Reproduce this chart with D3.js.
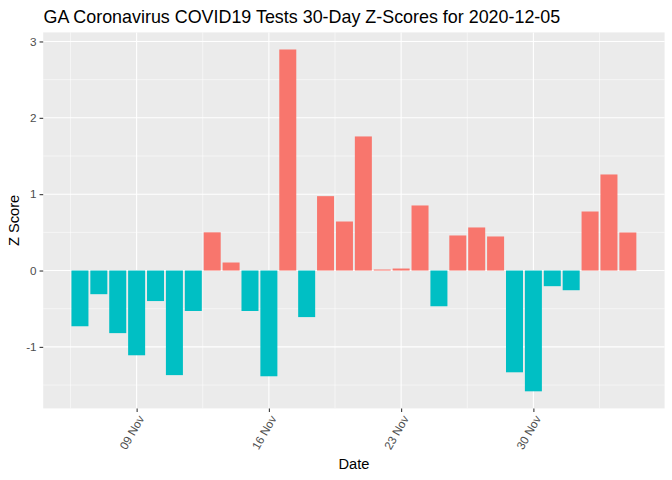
<!DOCTYPE html>
<html>
<head>
<meta charset="utf-8">
<script src="https://cdn.jsdelivr.net/npm/d3@7"></script>
<style>
  body { margin: 0; background: #fff; }
  text { font-family: "Liberation Sans", Arial, sans-serif; }
</style>
</head>
<body>
<script>
//chart data: one z-score per day, 30 days ending 2020-12-05
var startDate = "2020-11-06";
var zScores = [
    -0.73, -0.31, -0.82, -1.11, -0.40, -1.37, -0.53, 0.50, 0.105, -0.53,
    -1.385, 2.895, -0.61, 0.974, 0.642, 1.756, 0.013, 0.026, 0.852, -0.468,
    0.459, 0.564, 0.446, -1.333, -1.582, -0.205, -0.258, 0.773, 1.258, 0.498
];
var yTicks = [-1, 0, 1, 2, 3];
var yMinor = [-1.5, -0.5, 0.5, 1.5, 2.5];
var xTickDates = ["2020-11-09", "2020-11-16", "2020-11-23", "2020-11-30"];
var xMinorDates = ["2020-11-05T12:00", "2020-11-12T12:00", "2020-11-19T12:00", "2020-11-26T12:00", "2020-12-03T12:00"];

var titleText = "GA Coronavirus COVID19 Tests 30-Day Z-Scores for 2020-12-05";

var width = 672, height = 480;
var panel = {left: 43.2, right: 664.6, top: 32.4, bottom: 408.4};
var DAY = 864e5;

var parse = d3.utcParse("%Y-%m-%d"),
    parseT = d3.utcParse("%Y-%m-%dT%H:%M");
var t0 = parse(startDate);

//build data rows from the arrays
var data = zScores.map(function(v, i){
    return {date: new Date(t0.getTime() + i * DAY), value: v};
});

var svg = d3.select("body").append("svg")
    .attr("width", width)
    .attr("height", height);

//domain like ggplot: bar width 0.9 day, then 5% expansion
var lo = data[0].date.getTime() - 0.45 * DAY,
    hi = data[data.length - 1].date.getTime() + 0.45 * DAY,
    padX = (hi - lo) * 0.05;
var x = d3.scaleUtc()
    .domain([new Date(lo - padX), new Date(hi + padX)])
    .range([panel.left, panel.right]);

var yMin = d3.min(zScores), yMax = d3.max(zScores), padY = (yMax - yMin) * 0.05;
var y = d3.scaleLinear()
    .domain([yMin - padY, yMax + padY])
    .range([panel.bottom, panel.top]);

//panel background
svg.append("rect")
    .attr("x", panel.left)
    .attr("y", panel.top)
    .attr("width", panel.right - panel.left)
    .attr("height", panel.bottom - panel.top)
    .attr("fill", "#EBEBEB");

//grid lines
var grid = svg.append("g").attr("stroke", "#fff");
grid.selectAll(".ymin").data(yMinor).enter().append("line")
    .attr("x1", panel.left).attr("x2", panel.right)
    .attr("y1", function(d){ return y(d); }).attr("y2", function(d){ return y(d); })
    .attr("stroke-width", 0.53);
grid.selectAll(".xmin").data(xMinorDates).enter().append("line")
    .attr("y1", panel.top).attr("y2", panel.bottom)
    .attr("x1", function(d){ return x(parseT(d)); }).attr("x2", function(d){ return x(parseT(d)); })
    .attr("stroke-width", 0.53);
grid.selectAll(".ymaj").data(yTicks).enter().append("line")
    .attr("x1", panel.left).attr("x2", panel.right)
    .attr("y1", function(d){ return y(d); }).attr("y2", function(d){ return y(d); })
    .attr("stroke-width", 1.07);
grid.selectAll(".xmaj").data(xTickDates).enter().append("line")
    .attr("y1", panel.top).attr("y2", panel.bottom)
    .attr("x1", function(d){ return x(parse(d)); }).attr("x2", function(d){ return x(parse(d)); })
    .attr("stroke-width", 1.07);

//bars
var barW = x(new Date(t0.getTime() + 0.9 * DAY)) - x(t0);
svg.selectAll(".bar")
    .data(data)
    .enter()
    .append("rect")
    .attr("class", "bar")
    .attr("x", function(d){ return x(d.date) - barW / 2; })
    .attr("width", barW)
    .attr("y", function(d){ return y(Math.max(0, d.value)); })
    .attr("height", function(d){ return Math.abs(y(d.value) - y(0)); })
    .attr("fill", function(d){ return d.value > 0 ? "#F8766D" : "#00BFC4"; });

//y axis
var yAxis = svg.append("g")
    .attr("transform", "translate(" + panel.left + ",0)")
    .call(d3.axisLeft(y).tickValues(yTicks).tickSize(3.65).tickPadding(3).tickFormat(d3.format("d")));
yAxis.select(".domain").remove();
yAxis.selectAll(".tick line").attr("stroke", "#333333").attr("stroke-width", 1.07);
yAxis.selectAll(".tick text")
    .attr("fill", "#4D4D4D")
    .style("font-size", "11.7px")
    .text(function(d){ return d < 0 ? "-" + Math.abs(d) : d; });

//x axis
var xAxis = svg.append("g")
    .attr("transform", "translate(0," + panel.bottom + ")")
    .call(d3.axisBottom(x).tickValues(xTickDates.map(parse)).tickSize(3.65).tickFormat(d3.utcFormat("%d %b")));
xAxis.select(".domain").remove();
xAxis.selectAll(".tick line").attr("stroke", "#333333").attr("stroke-width", 1.07);
xAxis.selectAll(".tick text")
    .attr("fill", "#4D4D4D")
    .style("font-size", "11.7px")
    .attr("text-anchor", "end")
    .attr("dy", "0.35em")
    .attr("y", 0)
    .attr("transform", "translate(4,8) rotate(-60)");

//axis titles
svg.append("text")
    .attr("x", (panel.left + panel.right) / 2)
    .attr("y", 469)
    .attr("text-anchor", "middle")
    .style("font-size", "14.67px")
    .text("Date");

svg.append("text")
    .attr("transform", "translate(19," + ((panel.top + panel.bottom) / 2) + ") rotate(-90)")
    .attr("text-anchor", "middle")
    .style("font-size", "14.67px")
    .text("Z Score");

//chart title
svg.append("text")
    .attr("x", 43.5)
    .attr("y", 22.5)
    .style("font-size", "17.9px")
    .text(titleText);
</script>
</body>
</html>
